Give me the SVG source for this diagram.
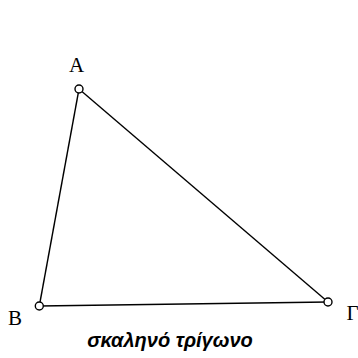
<svg xmlns="http://www.w3.org/2000/svg" width="358" height="358" viewBox="0 0 358 358">
<style>
.edge{stroke:#000;stroke-width:1.4;fill:none}
.pt{fill:#fff;stroke:#000;stroke-width:1.4}
.lbl{font-family:"Liberation Serif","DejaVu Serif",serif;font-size:21px;fill:#000}
.cap{font-family:"Liberation Sans","DejaVu Sans",sans-serif;font-size:20px;font-weight:bold;font-style:italic;fill:#000}
</style>
<rect width="358" height="358" fill="#fff"/>
<g id="connectors">
<line class="edge" x1="79" y1="89" x2="39.3" y2="306"/>
<line class="edge" x1="39.3" y1="306" x2="328" y2="302"/>
<line class="edge" x1="328" y1="302" x2="79" y2="89"/>
</g>
<g id="A">
<circle class="pt" cx="79" cy="89" r="4"/>
<text class="lbl" x="76.5" y="72" text-anchor="middle">A</text>
</g>
<g id="B">
<circle class="pt" cx="39.3" cy="306" r="4"/>
<text class="lbl" x="15" y="325" text-anchor="middle">B</text>
</g>
<g id="G">
<circle class="pt" cx="328" cy="302" r="4"/>
<text class="lbl" x="352.5" y="320" text-anchor="middle">Γ</text>
</g>
<text class="cap" x="170" y="347" text-anchor="middle">σκαληνό τρίγωνο</text>
</svg>
